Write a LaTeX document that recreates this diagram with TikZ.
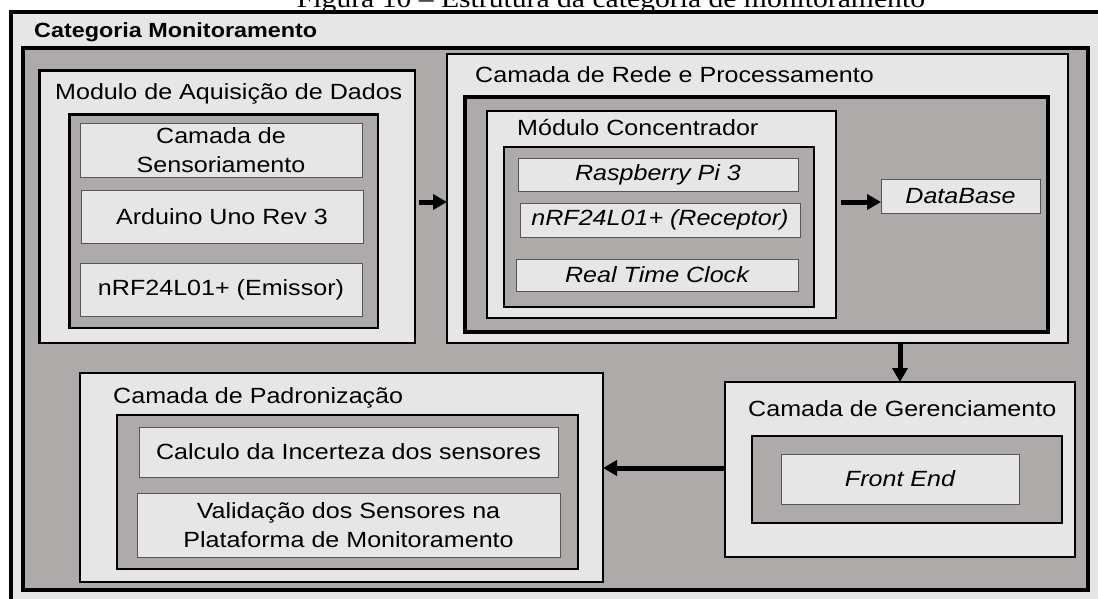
\documentclass[tikz,border=0pt]{standalone}
\usepackage{fontspec}
\setmainfont{Liberation Sans}[FakeStretch=1.14]
\newfontfamily\capfont{Liberation Serif}[FakeStretch=1.14]
\usetikzlibrary{arrows.meta}
\definecolor{lg}{HTML}{E7E6E6}
\definecolor{dg}{HTML}{AEAAAA}
\definecolor{edgec}{HTML}{555555}
\tikzset{
 lab/.style={inner sep=0pt, anchor=base west, font=\fontsize{22}{28}\selectfont},
 lightbox/.style={draw=black, fill=lg, line width=2.5pt, inner sep=0pt, outer sep=0pt, anchor=north west},
 darkbox/.style={draw=black, fill=dg, line width=2.5pt, inner sep=0pt, outer sep=0pt, anchor=north west},
 leaf/.style={draw=edgec, fill=lg, line width=1pt, inner sep=0pt, outer sep=0pt, anchor=north west, align=center, font=\fontsize{22}{28.5}\selectfont},
 leafit/.style={leaf, font=\fontsize{22}{28.5}\selectfont\itshape},
 arr/.style={line width=5pt, -{Triangle[width=15pt,length=14pt]}},
}
\begin{document}
\begin{tikzpicture}[x=1pt,y=-1pt]
\useasboundingbox (0,0) rectangle (1098,598);
\clip (0,0) rectangle (1098,598);
\fill[white] (0,0) rectangle (1098,598);
% caption (cut off at top, as in the reference)
\node[inner sep=0pt, anchor=base, font=\capfont\fontsize{26}{30}\selectfont] (cap) at (611,7.5) {Figura 10 – Estrutura da categoria de monitoramento};
% outer frame
\node[lightbox, line width=3.5pt, minimum width=1094pt, minimum height=592pt] (outer) at (11,12) {};
\node[lab, font=\fontsize{20.5}{24}\selectfont\bfseries] (title) at (34,37) {Categoria Monitoramento};
\node[darkbox, line width=4pt, minimum width=1065pt, minimum height=542pt] (main) at (23,48) {};
% Modulo de Aquisicao
\node[lightbox, minimum width=375.5pt, minimum height=272.5pt] (mod) at (39.5,70.5) {};
\node[lab] (modl) at (55,99) {Modulo de Aquisição de Dados};
\node[darkbox, minimum width=308.5pt, minimum height=213.5pt] (modin) at (69.5,114.5) {};
\node[leaf, minimum width=282pt, minimum height=54pt] (sens) at (80,123) {Camada de\\Sensoriamento};
\node[leaf, minimum width=282pt, minimum height=53pt] (ard) at (81,190) {Arduino Uno Rev 3};
\node[leaf, minimum width=282pt, minimum height=53pt] (emi) at (80,263) {nRF24L01+ (Emissor)};
% Camada de Rede e Processamento
\node[lightbox, minimum width=621pt, minimum height=289pt] (rede) at (447,54) {};
\node[lab] (redel) at (475,82) {Camada de Rede e Processamento};
\node[darkbox, line width=4.5pt, minimum width=583pt, minimum height=235pt] (redein) at (465,97) {};
\node[lightbox, minimum width=349pt, minimum height=207pt] (conc) at (487,111) {};
\node[lab] (concl) at (517,135) {Módulo Concentrador};
\node[darkbox, minimum width=310pt, minimum height=160pt] (concin) at (504,147) {};
\node[leafit, minimum width=280pt, minimum height=33pt] (rasp) at (518,158) {Raspberry Pi 3};
\node[leafit, minimum width=280pt, minimum height=34pt] (rec) at (520,203) {nRF24L01+ (Receptor)};
\node[leafit, minimum width=282pt, minimum height=32pt] (rtc) at (516,259) {Real Time Clock};
\node[leafit, minimum width=159pt, minimum height=34pt] (db) at (881,179) {DataBase};
% Camada de Gerenciamento
\node[lightbox, minimum width=350pt, minimum height=175pt] (ger) at (725,382) {};
\node[lab] (gerl) at (748,416) {Camada de Gerenciamento};
\node[darkbox, minimum width=310pt, minimum height=87pt] (gerin) at (752,436) {};
\node[leafit, minimum width=238pt, minimum height=50pt] (fe) at (781,454) {Front End};
% Camada de Padronizacao
\node[lightbox, minimum width=523pt, minimum height=209pt] (pad) at (80,373) {};
\node[lab] (padl) at (113,403) {Camada de Padronização};
\node[darkbox, minimum width=461pt, minimum height=154pt] (padin) at (117,415) {};
\node[leaf, minimum width=419pt, minimum height=50pt] (calc) at (139,427) {Calculo da Incerteza dos sensores};
\node[leaf, minimum width=423pt, minimum height=64pt] (val) at (137,493) {Validação dos Sensores na\\Plataforma de Monitoramento};
% connectors
\coordinate (a1) at ([yshift=4.75pt]mod.east);
\draw[arr, shorten <=4pt] (a1) -- (a1 -| rede.west);
\coordinate (a2) at ([yshift=12.5pt]conc.east);
\draw[arr, shorten <=5pt] (a2) -- (a2 -| db.west);
\coordinate (a3) at ([xshift=142.5pt]rede.south);
\draw[arr] (a3) -- (a3 |- ger.north);
\draw[arr] ([yshift=1.5pt]ger.west) -- ([yshift=1.5pt]ger.west -| pad.east);
\end{tikzpicture}
\end{document}
